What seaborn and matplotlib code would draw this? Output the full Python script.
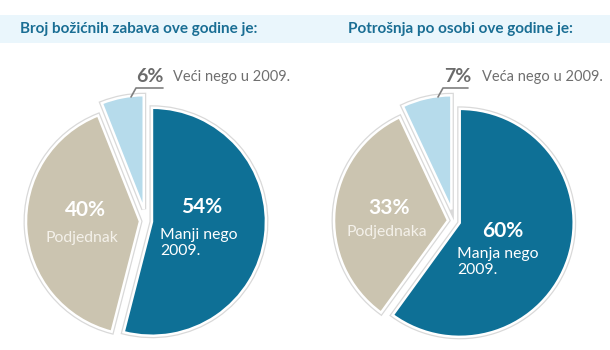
import matplotlib
matplotlib.use("Agg")
import matplotlib.pyplot as plt
import matplotlib.patheffects as pe
from matplotlib.patches import Rectangle
import seaborn as sns

# ---- data ----
titles = ["Broj božićnih zabava ove godine je:", "Potrošnja po osobi ove godine je:"]
left_labels = ["Manji nego\n2009.", "Podjednak", "Veći nego u 2009."]
left_values = [54, 40, 6]
right_labels = ["Manja nego\n2009.", "Podjednaka", "Veća nego u 2009."]
right_values = [60, 33, 7]

sns.set_theme(style="white")
plt.rcParams['font.family'] = ['Lato', 'DejaVu Sans']

palette = sns.color_palette(["#0e7096", "#cbc4b0", "#b6dbeb"])
W, H = 610, 350
fig = plt.figure(figsize=(6.1, 3.5), dpi=100)
ax = fig.add_axes([0, 0, 1, 1])

# title band
ax.add_patch(Rectangle((0, H - 43), W, 28, color="#eaf6fc", zorder=0, lw=0))

pies = [
    dict(values=left_values, labels=left_labels, title=titles[0], cx=146, title_x=20,
         big=(85, 210), small=(82, 238), mainpct=(202, 207), mainlab=(160, 243),
         lead=[(131, 97), (136, 88), (163, 88)], tpct=(150, 76), tlab=(173, 77)),
    dict(values=right_values, labels=right_labels, title=titles[1], cx=454, title_x=348,
         big=(389, 208), small=(387, 232), mainpct=(503, 231), mainlab=(457, 262),
         lead=[(438, 97), (443, 88), (468, 88)], tpct=(458, 76), tlab=(482, 77)),
]
R = 114
cy = H - 221
for p in pies:
    wedges, _ = ax.pie(p["values"], colors=palette, startangle=90, counterclock=False,
                       explode=[6, 6, 12], center=(p["cx"], cy), radius=R,
                       frame=True,
                       wedgeprops=dict(edgecolor="white", linewidth=1.8))
    for w in wedges:
        w.set_path_effects([pe.Stroke(linewidth=3.6, foreground="#d9d9d9"), pe.Normal()])
    v = p["values"]
    lab = p["labels"]
    ax.text(p["title_x"], H - 29, p["title"], color="#1a6e94", fontsize=11,
            fontweight="bold", ha="left", va="center")
    # main slice
    ax.text(p["mainpct"][0], H - p["mainpct"][1], f"{v[0]}%", color="white",
            fontsize=15, fontweight="bold", ha="center", va="center")
    ax.text(p["mainlab"][0], H - p["mainlab"][1], lab[0], color="white",
            fontsize=11.3, ha="left", va="center", linespacing=1.1)
    # second slice
    ax.text(p["big"][0], H - p["big"][1], f"{v[1]}%", color="white",
            fontsize=15, fontweight="bold", ha="center", va="center")
    ax.text(p["small"][0], H - p["small"][1], lab[1], color="#f4f1ea",
            fontsize=11.3, ha="center", va="center")
    # small slice callout
    xs = [q[0] for q in p["lead"]]
    ys = [H - q[1] for q in p["lead"]]
    ax.plot(xs, ys, color="#7f7f7f", lw=1.2)
    ax.text(p["tpct"][0], H - p["tpct"][1], f"{v[2]}%", color="#6b6b6b",
            fontsize=14, fontweight="bold", ha="center", va="center")
    ax.text(p["tlab"][0], H - p["tlab"][1], lab[2], color="#6f6f6f",
            fontsize=10.5, ha="left", va="center")

ax.set_xlim(0, W)
ax.set_ylim(0, H)
ax.set_aspect("equal")
ax.axis("off")
fig.savefig("out.png", dpi=100, facecolor="white")
